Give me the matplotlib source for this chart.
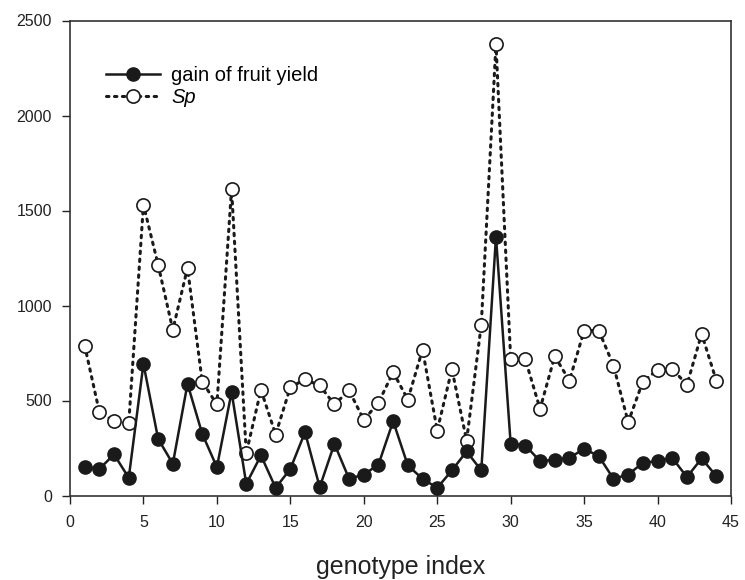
import matplotlib
matplotlib.use("Agg")
import matplotlib.pyplot as plt

genotype = list(range(1, 45))
gain_yield = [149, 140, 216, 93, 693, 298, 167, 588, 325, 149,
              544, 61, 211, 40, 140, 333, 44, 272, 88, 110,
              163, 391, 158, 88, 40, 132, 232, 132, 1363, 272,
              263, 181, 188, 198, 246, 207, 88, 110, 172, 181,
              198, 97, 195, 102]
sp_values = [789, 439, 391, 381, 1530, 1214, 872, 1198, 600, 479,
             1614, 223, 556, 321, 570, 611, 579, 479, 553, 398,
             488, 649, 505, 768, 342, 665, 289, 900, 2377, 719,
             716, 456, 733, 605, 868, 868, 684, 386, 600, 661,
             667, 582, 851, 605]
x_ticks = [0, 5, 10, 15, 20, 25, 30, 35, 40, 45]
y_ticks = [0, 500, 1000, 1500, 2000, 2500]

plt.rcParams['font.family'] = ['Liberation Sans', 'DejaVu Sans']

fig = plt.figure(figsize=(7.45, 5.8), dpi=100)
ax = fig.add_axes([70/745, 1 - 495.5/580, (731-70)/745, (495.5-20.5)/580])

ax.plot(genotype, sp_values, linestyle=(0, (0.8, 1.8)), color='#1a1a1a',
        linewidth=2.2, dash_capstyle='round', marker='o', markersize=9.5,
        markerfacecolor='white', markeredgecolor='#1a1a1a', markeredgewidth=1.2,
        label='Sp', zorder=2)
ax.plot(genotype, gain_yield, linestyle='-', color='#1a1a1a', linewidth=1.8,
        marker='o', markersize=9.5, markerfacecolor='#1a1a1a',
        markeredgecolor='#1a1a1a', label='gain of fruit yield', zorder=3)

ax.set_xlim(0, 45)
ax.set_ylim(0, 2500)
ax.set_xticks(x_ticks)
ax.set_yticks(y_ticks)
ax.tick_params(direction='out', length=5.5, width=1, labelsize=11.5,
               colors='#222222')
ax.tick_params(axis='x', pad=8.5)
ax.tick_params(axis='y', pad=7.5)
for s in ax.spines.values():
    s.set_color('#333333')
    s.set_linewidth(1.2)

ax.set_xlabel('genotype index', fontsize=18, labelpad=18, color='#222222')

handles, labels = ax.get_legend_handles_labels()
leg = ax.legend([handles[1], handles[0]], ['gain of fruit yield', 'Sp'],
                loc='upper left', bbox_to_anchor=(0.033, 0.934), frameon=False,
                fontsize=14.5, handlelength=2.7, handletextpad=0.55,
                labelspacing=0.15, borderpad=0.2)
leg.get_texts()[1].set_fontstyle('italic')

fig.savefig('out.png', dpi=100)
